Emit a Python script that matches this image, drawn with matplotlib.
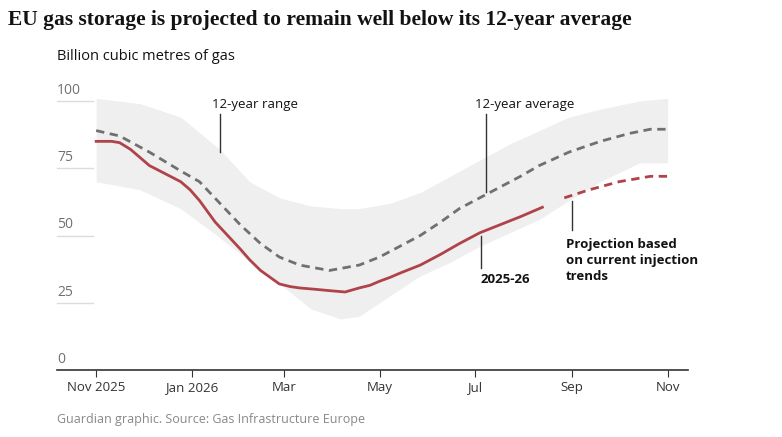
import matplotlib.pyplot as plt
import numpy as np

# days since 1 Nov 2025
range_days = [0, 28, 54, 79, 98, 117, 137, 156, 168, 188, 207, 226, 245, 264, 283, 302, 322, 347, 365]
range_hi = [101, 99, 94, 82, 70, 64, 61, 60, 60, 62, 66, 72, 78, 84, 89, 94, 97, 100, 101]
range_lo_days = [0, 28, 54, 73, 92, 111, 130, 143, 156, 168, 181, 194, 207, 226, 245, 264, 283, 302, 322, 347, 365]
range_lo = [70, 67, 60, 52, 43, 35, 26, 20, 19, 20, 25, 30, 35, 40, 46, 51, 56, 63, 70, 77, 77]

avg_days = [0, 15, 34, 54, 66, 79, 92, 105, 117, 130, 149, 168, 181, 194, 207, 220, 232, 245, 258, 271, 283, 302, 322, 341, 354, 365]
avg_vals = [89, 87, 81, 74, 70, 62, 54, 47, 42, 39, 37, 39, 42, 46, 50, 55, 60, 64, 68, 72, 76, 81, 85, 88, 89.5, 89.5]

cur_days = [0, 10, 15, 22, 28, 34, 44, 54, 60, 66, 71, 76, 84, 92, 98, 105, 111, 117, 124, 130, 140, 149, 159, 168, 175, 181, 188, 194, 207, 220, 232, 245, 258, 271, 285]
cur_vals = [85, 85, 84.5, 82, 79, 76, 73, 70, 67, 63, 59, 55, 50, 45, 41, 37, 34.5, 32, 31, 30.5, 30, 29.5, 29, 30.5, 31.5, 33, 34.5, 36, 39, 43, 47, 51, 54, 57, 60.5]

proj_days = [299, 315, 334, 354, 365]
proj_vals = [64, 67, 70, 72, 72]

tick_days = [0, 61, 120, 181, 242, 304, 365]
tick_labels = ["Nov 2025", "Jan 2026", "Mar", "May", "Jul", "Sep", "Nov"]

plt.rcParams["font.family"] = ["Open Sans", "DejaVu Sans"]
W, H = 782, 437
fig = plt.figure(figsize=(W / 100, H / 100), dpi=100)
ax = fig.add_axes([57 / W, (H - 370) / H, (688 - 57) / W, 269 / H])
ax.set_xlim(-25, 378)
ax.set_ylim(0, 100)

lo = np.interp(range_days, range_lo_days, range_lo)
ax.fill_between(range_days, lo, range_hi, color="#efefef", lw=0, clip_on=False)
ax.plot(avg_days, avg_vals, color="#707070", lw=2, ls=(0, (3, 2)), clip_on=False)
ax.plot(cur_days, cur_vals, color="#b0424a", lw=2, clip_on=False)
ax.plot(proj_days, proj_vals, color="#b0424a", lw=2, ls=(0, (3, 2)), clip_on=False)

for v in [25, 50, 75, 100]:
    ax.plot([-25, -2], [v, v], color="#dcdcdc", lw=1, clip_on=False)
    ax.text(-25, v + 1.2, str(v), fontsize=10, color="#707070", va="bottom")
ax.text(-25, 1.2, "0", fontsize=10, color="#707070", va="bottom")

for s in ["top", "right", "left"]:
    ax.spines[s].set_visible(False)
ax.spines["bottom"].set_color("#333333")
ax.spines["bottom"].set_linewidth(1.2)
ax.set_yticks([])
ax.set_xticks(tick_days)
ax.set_xticklabels(tick_labels, fontsize=9.5, color="#333333")
ax.tick_params(axis="x", length=5, color="#333333", pad=3)

def note(x, y, text, ly0, ly1, lx, bold=False, ha="left"):
    ax.text(x, y, text, fontsize=9.5, ha=ha, va="top", color="#121212",
            fontweight="bold" if bold else "normal", linespacing=1.3)
    ax.plot([lx, lx], [ly0, ly1], color="#333333", lw=1, clip_on=False)

note(74, 101, "12-year range", 95, 81, 79)
note(242, 101, "12-year average", 95, 66, 249)
note(261, 36, "2025-26", 50, 38, 246, bold=True, ha="center")
note(300, 49, "Projection based\non current injection\ntrends", 63, 52, 304, bold=True)

fig.text(8 / W, 1 - 10 / H, "EU gas storage is projected to remain well below its 12-year average",
         fontsize=15.5, fontweight="bold", family=["Liberation Serif"], va="top", color="#121212")
fig.text(57 / W, 1 - 49 / H, "Billion cubic metres of gas", fontsize=10.5, va="top", color="#121212")
fig.text(57 / W, 1 - 413 / H, "Guardian graphic. Source: Gas Infrastructure Europe",
         fontsize=9, va="top", color="#888888")

fig.savefig("out.png", dpi=100)
